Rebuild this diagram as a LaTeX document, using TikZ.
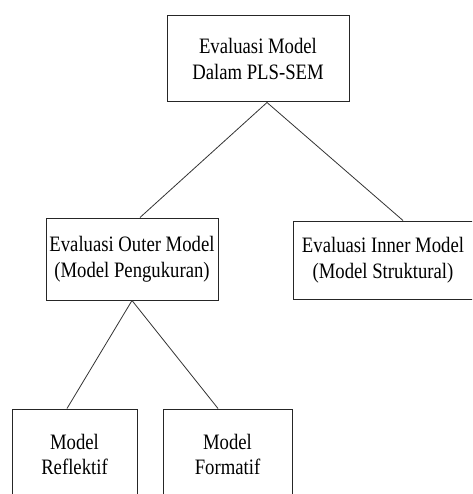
\documentclass[tikz,border=0pt]{standalone}
\usepackage{fontspec}
\setmainfont[FakeStretch=0.85]{Liberation Serif}
\begin{document}
\begin{tikzpicture}[x=1pt,y=-1pt,
  box/.style={draw=black!85,line width=1pt,rectangle,inner sep=0pt,align=center,
    font=\fontsize{22}{25.5}\selectfont},
  link/.style={draw=black!80,line width=0.8pt}]
\useasboundingbox (0,0) rectangle (472,494);
\clip (0,0) rectangle (472,494);
\node[box,minimum width=182pt,minimum height=86pt] (top) at (258,59) {Evaluasi Model\\Dalam PLS-SEM};
\node[box,minimum width=172pt,minimum height=82pt] (outer) at (132,259) {Evaluasi Outer Model\\(Model Pengukuran)};
\node[box,minimum width=180pt,minimum height=78pt] (inner) at (383,260) {Evaluasi Inner Model\\(Model Struktural)};
\node[box,minimum width=125pt,minimum height=91pt] (refl) at (74.5,454.5) {Model\\Reflektif};
\node[box,minimum width=129pt,minimum height=91pt] (form) at (227.5,454.5) {Model\\Formatif};
\draw[link] ([xshift=9pt]top.south) -- ([xshift=8pt]outer.north);
\draw[link] ([xshift=9pt]top.south) -- ([xshift=20pt]inner.north);
\draw[link] (outer.south) -- ([xshift=-7.5pt]refl.north);
\draw[link] (outer.south) -- ([xshift=-9.5pt]form.north);
\end{tikzpicture}
\end{document}
